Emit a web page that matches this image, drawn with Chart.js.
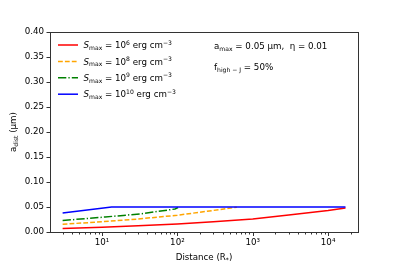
<!DOCTYPE html>
<html>
<head>
<meta charset="utf-8">
<script src="https://cdn.jsdelivr.net/npm/chart.js@4"></script>
<style>
html, body { margin: 0; padding: 0; background: #fff; }
#wrap { width: 399px; height: 266px; position: relative; }
</style>
</head>
<body>
<div id="wrap"><canvas id="chart"></canvas></div>
<script>
const FONT = "'DejaVu Sans', sans-serif";
const FS = 8.7;

// values (distance in R*, a_dist in micron)
const redDist = [3, 10, 30, 100, 300, 1000, 3000, 10000, 17000];
const redA = [0.007, 0.0095, 0.0125, 0.016, 0.0205, 0.026, 0.034, 0.043, 0.048];

const orangeDist = [3, 10, 30, 100, 235, 615];
const orangeA = [0.0155, 0.0205, 0.026, 0.0335, 0.041, 0.0495];

const greenDist = [3, 11, 34, 93, 102];
const greenA = [0.023, 0.030, 0.0366, 0.046, 0.049];

const blueDist = [3, 13.4, 17000];
const blueA = [0.038, 0.05, 0.05];

const yTicks = [0, 0.05, 0.1, 0.15, 0.2, 0.25, 0.3, 0.35, 0.4];
const xMajor = [10, 100, 1000, 10000];
const xTickLabels = ['10\u00b9', '10\u00b2', '10\u00b3', '10\u2074'];

const legendTexts = [
  [['S', 'it'], ['max', 'sub'], [' = 10', ''], ['6', 'sup'], [' erg cm', ''], ['\u22123', 'sup']],
  [['S', 'it'], ['max', 'sub'], [' = 10', ''], ['8', 'sup'], [' erg cm', ''], ['\u22123', 'sup']],
  [['S', 'it'], ['max', 'sub'], [' = 10', ''], ['9', 'sup'], [' erg cm', ''], ['\u22123', 'sup']],
  [['S', 'it'], ['max', 'sub'], [' = 10', ''], ['10', 'sup'], [' erg cm', ''], ['\u22123', 'sup']]
];

function pts(xs, ys) {
  return xs.map((x, i) => ({ x: x, y: ys[i] }));
}

// draws text with sub/superscripts, y is the vertical middle
function richWidth(ctx, parts, size) {
  let w = 0;
  parts.forEach(p => {
    const s = (p[1] === 'sub' || p[1] === 'sup') ? size * 0.7 : size;
    ctx.font = (p[1] === 'it' ? 'italic ' : '') + s + 'px ' + FONT;
    w += ctx.measureText(p[0]).width;
  });
  return w;
}
function drawRich(ctx, parts, x, y, size, align) {
  const w = richWidth(ctx, parts, size);
  let cx = align === 'center' ? x - w / 2 : x;
  const base = y + size * 0.36;
  ctx.textAlign = 'left';
  ctx.textBaseline = 'alphabetic';
  ctx.fillStyle = '#000';
  parts.forEach(p => {
    let s = size, dy = 0;
    if (p[1] === 'sub') { s = size * 0.7; dy = size * 0.22; }
    if (p[1] === 'sup') { s = size * 0.7; dy = -size * 0.4; }
    ctx.font = (p[1] === 'it' ? 'italic ' : '') + s + 'px ' + FONT;
    ctx.fillText(p[0], cx, base + dy);
    cx += ctx.measureText(p[0]).width;
  });
}

const extras = {
  id: 'extras',
  afterDraw(chart) {
    const ctx = chart.ctx;
    const a = chart.chartArea;
    const xs = chart.scales.x;
    ctx.save();
    // frame
    ctx.strokeStyle = '#333';
    ctx.lineWidth = 1;
    ctx.strokeRect(Math.round(a.left) + 0.5, Math.round(a.top) + 0.5,
      Math.round(a.right - a.left) - 1, Math.round(a.bottom - a.top));
    // x ticks, major and minor
    ctx.strokeStyle = '#333';
    for (let n = 0; n <= 4; n++) {
      for (let k = 1; k <= 9; k++) {
        const v = k * Math.pow(10, n);
        if (v < xs.min || v > xs.max) continue;
        const px = Math.round(xs.getPixelForValue(v)) + 0.5;
        const len = k === 1 ? 3.5 : 2;
        ctx.beginPath();
        ctx.moveTo(px, a.bottom + 0.5);
        ctx.lineTo(px, a.bottom + 0.5 + len);
        ctx.stroke();
      }
    }
    // legend
    chart.data.datasets.forEach((ds, i) => {
      const y = 45 + i * 16.4;
      ctx.strokeStyle = ds.borderColor;
      ctx.lineWidth = ds.borderWidth;
      ctx.setLineDash(ds.borderDash || []);
      ctx.beginPath();
      ctx.moveTo(58, y);
      ctx.lineTo(78, y);
      ctx.stroke();
      ctx.setLineDash([]);
      drawRich(ctx, legendTexts[i], 83.5, y, FS, 'left');
    });
    // annotations
    drawRich(ctx, [['a', ''], ['max', 'sub'], [' = 0.05 \u03bcm,  \u03b7 = 0.01', '']], 214, 46, FS, 'left');
    drawRich(ctx, [['f', ''], ['high \u2212 J', 'sub'], [' = 50%', '']], 214, 66.5, FS, 'left');
    // axis titles
    drawRich(ctx, [['Distance (R', ''], ['*', 'sub'], [')', '']], 204, 256.5, FS, 'center');
    ctx.translate(13, 132);
    ctx.rotate(-Math.PI / 2);
    drawRich(ctx, [['a', ''], ['dist', 'sub'], [' (\u03bcm)', '']], 0, 0, FS, 'center');
    ctx.restore();
  }
};

new Chart(document.getElementById('chart'), {
  type: 'line',
  data: {
    datasets: [
      { data: pts(redDist, redA), borderColor: '#ff0000', borderWidth: 1.5, order: 4 },
      { data: pts(orangeDist, orangeA), borderColor: '#ffa500', borderWidth: 1.5, borderDash: [4.8, 2.1], order: 3 },
      { data: pts(greenDist, greenA), borderColor: '#008000', borderWidth: 1.5, borderDash: [8.3, 2.1, 1.3, 2.1], order: 2 },
      { data: pts(blueDist, blueA), borderColor: '#0000ff', borderWidth: 1.5, order: 1 }
    ]
  },
  options: {
    responsive: true,
    maintainAspectRatio: false,
    animation: false,
    devicePixelRatio: 1,
    layout: { padding: { top: 32, right: 40, left: 0, bottom: 0 } },
    elements: { point: { radius: 0 }, line: { tension: 0, fill: false } },
    plugins: { legend: { display: false }, tooltip: { enabled: false } },
    scales: {
      x: {
        type: 'logarithmic',
        min: 2.04,
        max: 25700,
        afterFit: s => { s.height = 34; },
        border: { display: false },
        grid: { drawOnChartArea: false, drawTicks: true, tickLength: 3.5, tickColor: 'rgba(0,0,0,0)' },
        ticks: {
          autoSkip: false,
          maxRotation: 0,
          padding: 2.5,
          color: '#000',
          font: { family: FONT, size: FS },
          callback: v => {
            const i = xMajor.findIndex(m => Math.abs(m - v) < 1e-6 * m);
            return i >= 0 ? xTickLabels[i] : '';
          }
        }
      },
      y: {
        min: 0,
        max: 0.4,
        afterFit: s => { s.width = 50; },
        afterBuildTicks: s => { s.ticks = yTicks.map(v => ({ value: v })); },
        border: { display: false },
        grid: { drawOnChartArea: false, drawTicks: true, tickLength: 3.5, tickColor: '#333' },
        ticks: {
          padding: 2.5,
          color: '#000',
          font: { family: FONT, size: FS },
          callback: v => v.toFixed(2)
        }
      }
    }
  },
  plugins: [extras]
});
</script>
</body>
</html>
